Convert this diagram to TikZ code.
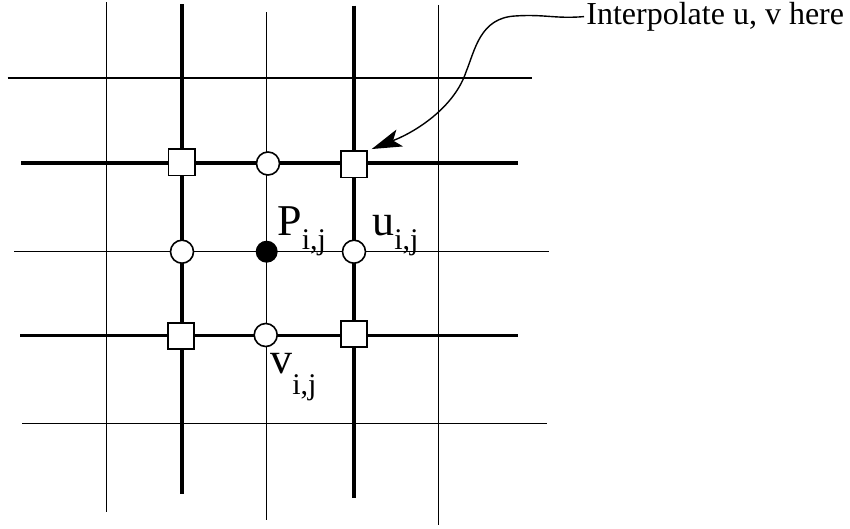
\documentclass[tikz,border=0pt]{standalone}
\usepackage{fontspec}
\setmainfont{Liberation Serif}
\usetikzlibrary{arrows.meta, positioning}
\tikzset{
  thingrid/.style={line width=0.6pt},
  thickgrid/.style={line width=1.8pt},
  unode/.style={circle, draw, fill=white, line width=0.8pt,
              minimum size=11.5pt, inner sep=0pt},
  pnode/.style={circle, fill=black, minimum size=11pt, inner sep=0pt},
  cornerbox/.style={rectangle, draw, fill=white, line width=0.8pt,
              minimum size=13.2pt, inner sep=0pt},
  varlabel/.style={inner sep=0pt, anchor=base west,
              font=\fontsize{22}{26}\selectfont},
  notelabel/.style={inner sep=1pt, anchor=base west,
              font=\fontsize{16}{19}\selectfont},
  pointer/.style={-{Stealth[length=15pt, width=9pt, inset=3.5pt]}, line width=0.7pt},
}
\newcommand{\subij}[1][7pt]{\raisebox{-#1}{\fontsize{15}{17}\selectfont i,j}}

\begin{document}
\begin{tikzpicture}[x=0.5pt, y=-0.5pt]
  \useasboundingbox (0,0) rectangle (850,529);

  % thin grid lines
  \draw[thingrid] (106.4,2.4) -- (106.4,512);
  \draw[thingrid] (266.7,12.5) -- (266.7,520);
  \draw[thingrid] (438.5,5) -- (438.5,524.7);
  \draw[thingrid] (7.5,78) -- (532,78);
  \draw[thingrid] (14,251.7) -- (549,251.7);
  \draw[thingrid] (22,423.7) -- (546.7,423.7);

  % thick grid lines
  \draw[thickgrid] (181.7,4.4) -- (181.7,494);
  \draw[thickgrid] (354,5.7) -- (354,497.6);
  \draw[thickgrid] (21,163.3) -- (518,163.3);
  \draw[thickgrid] (20,335.3) -- (518,335.3);

  % cell corners and faces
  \node[cornerbox] (sqNW) at (181.7,162.5) {};
  \node[cornerbox] (sqNE) at (354,164.5) {};
  \node[cornerbox] (sqSW) at (181,336) {};
  \node[cornerbox] (sqSE) at (354,334) {};
  \node[unode] (vtop) at (268,163.5) {};
  \node[unode] (vbot) at (265.7,335) {};
  \node[unode] (uleft) at (182,251.7) {};
  \node[unode] (uright) at (354,251.7) {};
  \node[pnode] (pdot) at (266.7,251.7) {};

  % labels
  \node[varlabel] (plabel) at (277,235) {P\subij};
  \node[varlabel] (ulabel) at (372,235) {u\subij};
  \node[varlabel] (vlabel) at (270,373.3) {v\subij[10.5pt]};
  \node[notelabel] (note) at (584,24.3) {Interpolate u, v here};

  \draw[pointer, shorten >=2pt] (note.west) .. controls (555,19) and (545,14) .. (515,16)
        .. controls (480,18) and (475,50) .. (466,72)
        .. controls (455,105) and (420,130) .. (sqNE.north east);
\end{tikzpicture}
\end{document}
